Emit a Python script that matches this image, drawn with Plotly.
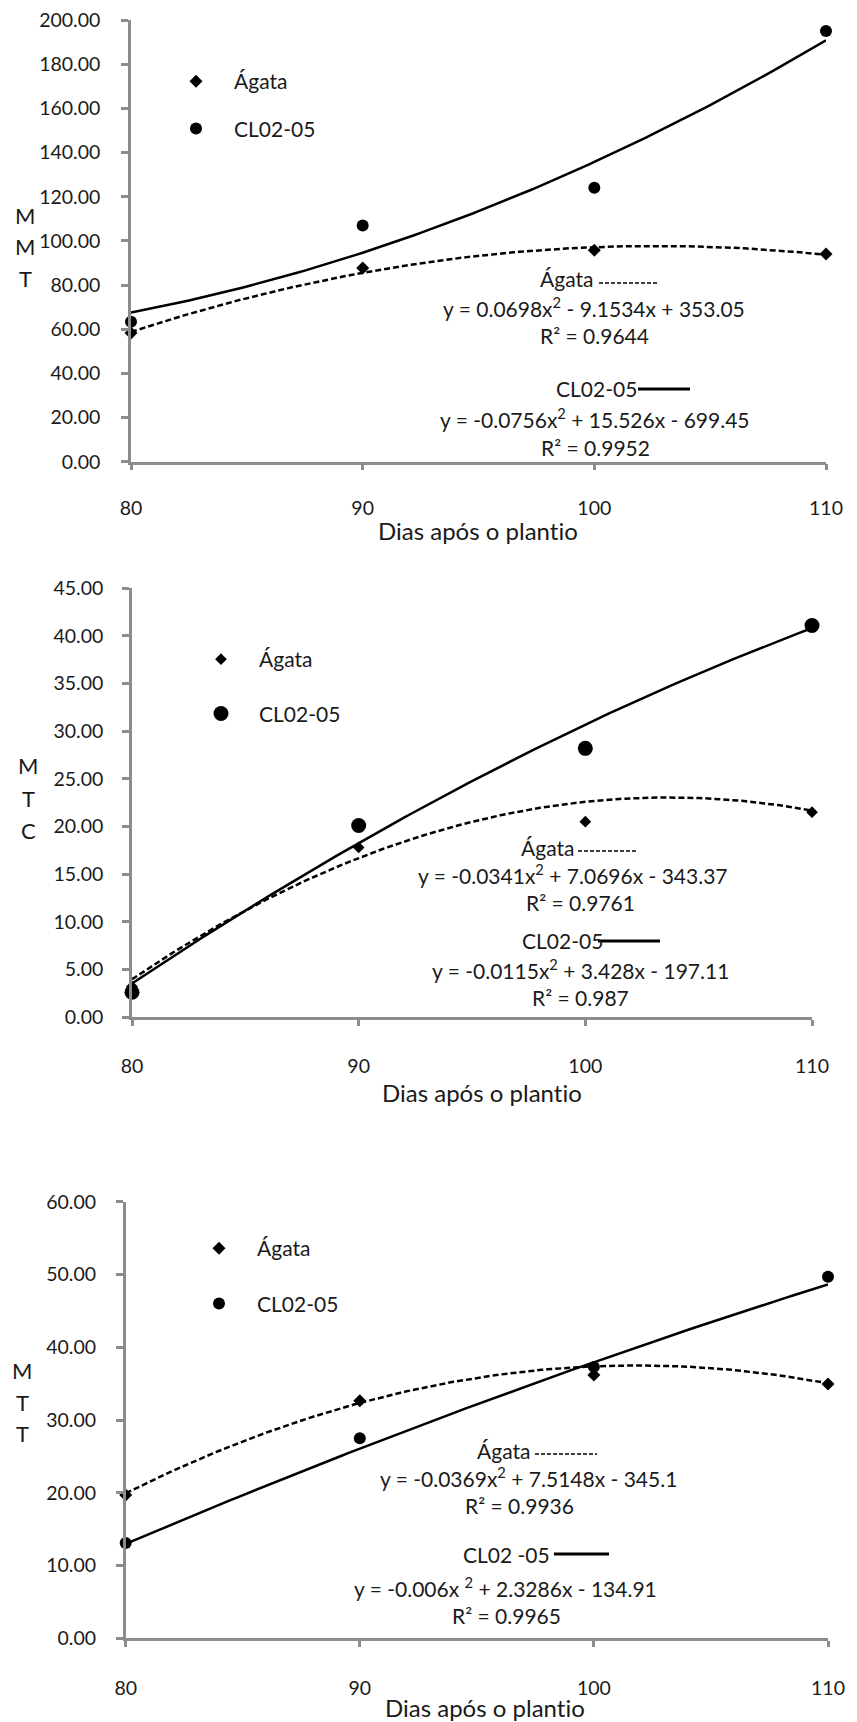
import numpy as np
import plotly.graph_objects as go

# the page body keeps the browser's default 8px margin, so the figure is
# sized to fill the 857x1722 window from that offset
WIN_W, WIN_H, OFF = 857, 1722, 8
W, H = WIN_W - OFF, WIN_H - OFF

# ---------------- data ----------------
days = [80, 90, 100, 110]
day_ticks = ["80", "90", "100", "110"]

mmt_agata = [58.3, 87.7, 95.8, 94.0]
mmt_cl = [63.4, 106.9, 124.0, 195.0]

mtc_agata = [3.2, 17.8, 20.5, 21.5]
mtc_cl = [2.6, 20.1, 28.2, 41.1]

mtt_agata = [19.7, 32.65, 36.2, 34.95]
mtt_cl = [13.1, 27.5, 37.3, 49.7]

# quadratic trend-line coefficients printed on the chart (a, b, c)
mmt_agata_fit = [-0.0756, 15.526, -699.45]
mmt_cl_fit = [0.0698, -9.1534, 353.05]
mtc_agata_fit = [-0.0341, 7.0696, -343.37]
mtc_cl_fit = [-0.0115, 3.428, -197.11]
mtt_agata_fit = [-0.0369, 7.5148, -345.1]
mtt_cl_fit = [-0.006, 2.3286, -134.91]

# equation labels, as printed
mmt_labels = ["Ágata", "y = 0.0698x<sup>2</sup> - 9.1534x + 353.05", "R² = 0.9644",
              "CL02-05", "y = -0.0756x<sup>2</sup> + 15.526x - 699.45", "R² = 0.9952"]
mtc_labels = ["Ágata", "y = -0.0341x<sup>2</sup> + 7.0696x - 343.37", "R² = 0.9761",
              "CL02-05", "y = -0.0115x<sup>2</sup> + 3.428x - 197.11", "R² = 0.987"]
mtt_labels = ["Ágata", "y = -0.0369x<sup>2</sup> + 7.5148x - 345.1", "R² = 0.9936",
              "CL02 -05", "y = -0.006x <sup>2</sup> + 2.3286x - 134.91", "R² = 0.9965"]

y_titles = [["M", "M", "T"], ["M", "T", "C"], ["M", "T", "T"]]
x_title = "Dias após o plant\u200cio"
series_names = ["Ágata", "CL02-05"]

# ---------------- layout geometry (window pixels) ----------------
FONT = "Lato"
TXT = "#1a1a1a"
AX = "#8c8c8c"


def pxx(x):
    return (x - OFF) / W


def pxy(y):
    return 1 - (y - OFF) / H


panels = [
    dict(x0=131, x1=826, yt=20, yb=461.7, ymax=200, step=20,
         ag=mmt_agata, cl=mmt_cl, agf=mmt_agata_fit, clf=mmt_cl_fit,
         labels=mmt_labels, csize=12, dsize=10,
         lab_pos=[(566, 279), (594, 307), (594, 335), (596, 389), (595, 418), (595, 447)],
         dash_line=(599, 659, 283), solid_line=(638, 690, 389),
         ytl=(25, [215, 247, 278]), xt=(478, 530),
         leg=(158, 61), gap=17, xso=21, yso=17),
    dict(x0=132, x1=812, yt=588.3, yb=1017, ymax=45, step=5,
         ag=mtc_agata, cl=mtc_cl, agf=mtc_agata_fit, clf=mtc_cl_fit,
         labels=mtc_labels, csize=15, dsize=9,
         lab_pos=[(547, 847), (573, 874), (580, 902), (562, 941), (580, 969), (580, 997)],
         dash_line=(578, 638, 851), solid_line=(598, 660, 941),
         ytl=(28, [765, 798, 830]), xt=(482, 1092),
         leg=(183, 639), gap=24, xso=24, yso=15),
    dict(x0=125.7, x1=828, yt=1201.7, yb=1638.3, ymax=60, step=10,
         ag=mtt_agata, cl=mtt_cl, agf=mtt_agata_fit, clf=mtt_cl_fit,
         labels=mtt_labels, csize=12, dsize=10,
         lab_pos=[(503, 1450), (528, 1477), (520, 1505), (507, 1554), (506, 1587), (507, 1615)],
         dash_line=(535, 597, 1454), solid_line=(554, 609, 1554),
         ytl=(22, [1370, 1402, 1433]), xt=(485, 1707),
         leg=(181, 1228), gap=25, xso=25, yso=16),
]

fig = go.Figure()
annotations = []
shapes = []
xx = np.linspace(80, 110, 121)

for i, p in enumerate(panels, start=1):
    xa = "x" if i == 1 else f"x{i}"
    ya = "y" if i == 1 else f"y{i}"
    legname = "legend" if i == 1 else f"legend{i}"

    # trend lines
    fig.add_trace(go.Scatter(x=xx, y=np.polyval(p["agf"], xx), mode="lines",
                             line=dict(color="black", width=2.5, dash="6px,3px"),
                             showlegend=False, hoverinfo="skip", xaxis=xa, yaxis=ya,
                             cliponaxis=False))
    fig.add_trace(go.Scatter(x=xx, y=np.polyval(p["clf"], xx), mode="lines",
                             line=dict(color="black", width=2.5),
                             showlegend=False, hoverinfo="skip", xaxis=xa, yaxis=ya,
                             cliponaxis=False))
    # data points
    fig.add_trace(go.Scatter(x=days, y=p["ag"], mode="markers", name=series_names[0],
                             marker=dict(symbol="diamond", size=p["dsize"], color="black"),
                             xaxis=xa, yaxis=ya, legend=legname, legendgroup=f"a{i}",
                             cliponaxis=False))
    fig.add_trace(go.Scatter(x=days, y=p["cl"], mode="markers", name=series_names[1],
                             marker=dict(symbol="circle", size=p["csize"], color="black"),
                             xaxis=xa, yaxis=ya, legend=legname, legendgroup=f"c{i}",
                             cliponaxis=False))

    xd = [pxx(p["x0"]), pxx(p["x1"])]
    yd = [pxy(p["yb"]), pxy(p["yt"])]
    common = dict(showline=True, linecolor=AX, linewidth=2.5, ticks="outside",
                  tickcolor=AX, tickwidth=2.5, showgrid=False, zeroline=False,
                  tickfont=dict(family=FONT, size=19.5, color=TXT), fixedrange=True,
                  ticklabeloverflow="allow")
    fig.update_layout(**{
        ("xaxis" if i == 1 else f"xaxis{i}"): dict(
            domain=xd, range=[80, 110], anchor=ya, tickvals=days, ticktext=day_ticks,
            ticklen=6, ticklabelstandoff=p["xso"], **common),
        ("yaxis" if i == 1 else f"yaxis{i}"): dict(
            domain=yd, range=[0, p["ymax"]], anchor=xa,
            tickvals=list(np.arange(0, p["ymax"] + 0.001, p["step"])),
            tickformat=".2f", ticklen=7, ticklabelstandoff=p["yso"], **common),
        legname: dict(x=pxx(p["leg"][0]), y=pxy(p["leg"][1]),
                      xanchor="left", yanchor="top", bgcolor="rgba(0,0,0,0)",
                      font=dict(family=FONT, size=21, color=TXT),
                      itemwidth=66, tracegroupgap=p["gap"]),
    })

    # equation labels
    for txt, (lx, ly) in zip(p["labels"], p["lab_pos"]):
        annotations.append(dict(text=txt, x=pxx(lx), y=pxy(ly), xref="paper", yref="paper",
                                showarrow=False, xanchor="center", yanchor="middle",
                                font=dict(family=FONT, size=21, color=TXT)))
    # line-style keys next to the labels
    d0, d1, dy = p["dash_line"]
    shapes.append(dict(type="line", xref="paper", yref="paper",
                       x0=pxx(d0), x1=pxx(d1), y0=pxy(dy), y1=pxy(dy),
                       line=dict(color="black", width=1.5, dash="4px,2px")))
    s0, s1, sy = p["solid_line"]
    shapes.append(dict(type="line", xref="paper", yref="paper",
                       x0=pxx(s0), x1=pxx(s1), y0=pxy(sy), y1=pxy(sy),
                       line=dict(color="black", width=3)))

    # vertical y-axis title letters
    tx, tys = p["ytl"]
    for letter, ty in zip(y_titles[i - 1], tys):
        annotations.append(dict(text=letter, x=pxx(tx), y=pxy(ty), xref="paper", yref="paper",
                                showarrow=False, xanchor="center", yanchor="middle",
                                font=dict(family=FONT, size=22, color=TXT)))
    # x-axis title
    annotations.append(dict(text=x_title, x=pxx(p["xt"][0]), y=pxy(p["xt"][1]),
                            xref="paper", yref="paper",
                            showarrow=False, xanchor="center", yanchor="middle",
                            font=dict(family=FONT, size=24, color=TXT)))

fig.update_layout(width=W, height=H,
                  margin=dict(l=0, r=0, t=0, b=0, pad=0, autoexpand=False),
                  paper_bgcolor="white", plot_bgcolor="white",
                  annotations=annotations, shapes=shapes, hovermode=False)

fig.write_html("out.html")
